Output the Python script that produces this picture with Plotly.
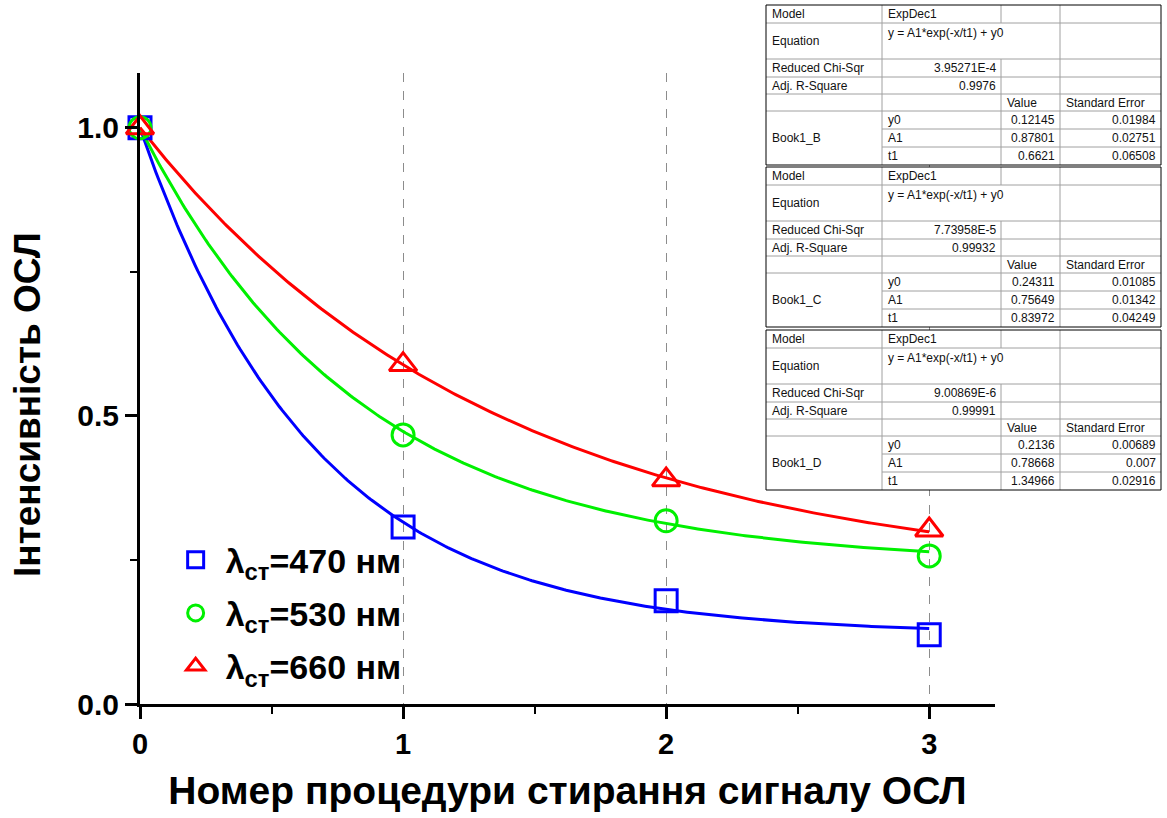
import numpy as np
import plotly.graph_objects as go

# ---- measured OSL intensity after each erase procedure ----
steps = [0, 1, 2, 3]
series_names = ["λ<sub>ст</sub>=470 нм", "λ<sub>ст</sub>=530 нм", "λ<sub>ст</sub>=660 нм"]
osl_470 = [1.0, 0.307, 0.179, 0.120]
osl_530 = [1.0, 0.467, 0.318, 0.257]
osl_660 = [1.0, 0.589, 0.389, 0.302]

# ---- ExpDec1 fit results: y = A1*exp(-x/t1) + y0 ----
fit_books = ["Book1_B", "Book1_C", "Book1_D"]
fit_chi2 = ["3.95271E-4", "7.73958E-5", "9.00869E-6"]
fit_adj_r2 = ["0.9976", "0.99932", "0.99991"]
fit_y0 = [0.12145, 0.24311, 0.2136]
fit_A1 = [0.87801, 0.75649, 0.78668]
fit_t1 = [0.6621, 0.83972, 1.34966]
fit_y0_err = [0.01984, 0.01085, 0.00689]
fit_A1_err = [0.02751, 0.01342, 0.007]
fit_t1_err = [0.06508, 0.04249, 0.02916]

colors = ["#0000ff", "#00f000", "#ff0000"]
symbols = ["square-open", "circle-open", "triangle-up-open"]
marker_sizes = [22, 22, 24]
series = [osl_470, osl_530, osl_660]

# figure geometry (px)
FIG_W, FIG_H = 1167, 818
M_L, M_R, M_T, M_B = 140, 172, 73, 114
PW = FIG_W - M_L - M_R
PH = FIG_H - M_T - M_B

FONT = "Liberation Sans, Arial, sans-serif"

fig = go.Figure()

# fitted curves
xf = np.linspace(0, 3, 301)
for i in range(3):
    yf = fit_A1[i] * np.exp(-xf / fit_t1[i]) + fit_y0[i]
    fig.add_trace(go.Scatter(x=xf, y=yf, mode="lines",
                             line=dict(color=colors[i], width=3),
                             showlegend=False, hoverinfo="skip"))

# measured points
for i in range(3):
    fig.add_trace(go.Scatter(x=steps, y=series[i], mode="markers", name=series_names[i],
                             legendgroup=f"g{i}",
                             marker=dict(symbol=symbols[i], size=marker_sizes[i], color=colors[i],
                                         line=dict(color=colors[i], width=3)),
                             cliponaxis=False))


def px_x(px):
    return (px - M_L) / PW


def px_y(py):
    return (FIG_H - M_B - py) / PH


# ---- fit parameter tables ----
shapes = []
annotations = []
col_x = [766, 882, 1001, 1060, 1161]
row_h = [18, 36, 18, 17, 17, 18, 18, 18]
table_tops = [5, 167, 330]
grid_c = "#a0a0a0"
txt_font = dict(family=FONT, size=12, color="#111111")


def hline(x0, x1, y, color=grid_c, w=1):
    shapes.append(dict(type="line", xref="paper", yref="paper",
                       x0=px_x(x0), x1=px_x(x1), y0=px_y(y), y1=px_y(y),
                       line=dict(color=color, width=w)))


def vline(x, y0, y1, color=grid_c, w=1):
    shapes.append(dict(type="line", xref="paper", yref="paper",
                       x0=px_x(x), x1=px_x(x), y0=px_y(y0), y1=px_y(y1),
                       line=dict(color=color, width=w)))


def text(s, x, y, anchor="left", yanchor="middle"):
    annotations.append(dict(text=s, xref="paper", yref="paper", x=px_x(x), y=px_y(y),
                            xanchor=anchor, yanchor=yanchor, showarrow=False,
                            font=txt_font))


for k, top in enumerate(table_tops):
    edges = [top]
    for h in row_h:
        edges.append(edges[-1] + h)
    bottom = edges[-1]
    # white background
    shapes.append(dict(type="rect", xref="paper", yref="paper",
                       x0=px_x(col_x[0]), x1=px_x(col_x[-1]), y0=px_y(bottom), y1=px_y(top),
                       fillcolor="white", line=dict(width=0), layer="above"))
    # inner horizontal lines
    for r in range(1, 6):
        hline(col_x[0], col_x[-1], edges[r])
    for r in (6, 7):
        hline(col_x[1], col_x[-1], edges[r])
    # inner vertical lines
    vline(col_x[1], top, bottom)
    vline(col_x[2], top, edges[1])
    vline(col_x[2], edges[2], bottom)
    vline(col_x[3], top, bottom)
    # outer frame
    shapes.append(dict(type="rect", xref="paper", yref="paper",
                       x0=px_x(col_x[0]), x1=px_x(col_x[-1]), y0=px_y(bottom), y1=px_y(top),
                       line=dict(color="#000000", width=1)))

    mid = [(edges[r] + edges[r + 1]) / 2 for r in range(len(row_h))]
    lx = [c + 4 for c in col_x[:-1]]
    rx = [c - 3 for c in col_x[1:]]
    text("Model", lx[0], mid[0])
    text("ExpDec1", lx[1], mid[0])
    text("Equation", lx[0], mid[1])
    text("y = A1*exp(-x/t1) + y0", lx[1], edges[1] + 1, yanchor="top")
    text("Reduced Chi-Sqr", lx[0], mid[2])
    text(fit_chi2[k], rx[1], mid[2], anchor="right")
    text("Adj. R-Square", lx[0], mid[3])
    text(fit_adj_r2[k], rx[1], mid[3], anchor="right")
    text("Value", lx[2], mid[4])
    text("Standard Error", lx[3], mid[4])
    text(fit_books[k], lx[0], mid[6])
    for r, (pn, v, e) in enumerate(zip(["y0", "A1", "t1"],
                                       [fit_y0[k], fit_A1[k], fit_t1[k]],
                                       [fit_y0_err[k], fit_A1_err[k], fit_t1_err[k]])):
        text(pn, lx[1], mid[5 + r])
        text(str(v), rx[2], mid[5 + r], anchor="right")
        text(str(e), rx[3], mid[5 + r], anchor="right")

# y-axis title, placed as a rotated annotation
annotations.append(dict(text="<b>Інтенсивність ОСЛ</b>", xref="paper", yref="paper",
                        x=px_x(28), y=px_y(405), xanchor="center", yanchor="middle",
                        textangle=-90, showarrow=False,
                        font=dict(family=FONT, size=37, color="#000000")))

fig.update_layout(
    width=FIG_W, height=FIG_H,
    margin=dict(l=M_L, r=M_R, t=M_T, b=M_B, autoexpand=False),
    paper_bgcolor="white", plot_bgcolor="white",
    font=dict(family=FONT, color="#000000"),
    shapes=shapes, annotations=annotations,
    showlegend=True,
    legend=dict(x=0.03, y=0.274, xanchor="left", yanchor="top",
                bgcolor="rgba(0,0,0,0)", traceorder="grouped", tracegroupgap=6,
                font=dict(family=FONT, size=34, weight="bold", color="#000000"),
                itemwidth=50),
    xaxis=dict(range=[0, 3.25], tickvals=[0, 1, 2, 3], ticktext=["0", "1", "2", "3"],
               showline=True, linecolor="#000000", linewidth=3,
               ticks="outside", ticklen=12, tickwidth=3, tickcolor="#000000",
               minor=dict(dtick=0.5, ticks="outside", ticklen=7, tickwidth=2,
                          tickcolor="#000000", showgrid=False),
               showgrid=True, gridcolor="#8c8c8c", griddash="dash", gridwidth=1,
               zeroline=False,
               tickfont=dict(family=FONT, size=29, weight="bold"),
               title=dict(text="<b>Номер процедури стирання сигналу ОСЛ</b>",
                          font=dict(family=FONT, size=39), standoff=18)),
    yaxis=dict(range=[0, 1.095], tickvals=[0, 0.5, 1.0], ticktext=["0.0", "0.5", "1.0"],
               showline=True, linecolor="#000000", linewidth=3,
               ticks="outside", ticklen=12, tickwidth=3, tickcolor="#000000",
               minor=dict(dtick=0.25, ticks="outside", ticklen=7, tickwidth=2,
                          tickcolor="#000000", showgrid=False),
               showgrid=False, zeroline=False,
               tickfont=dict(family=FONT, size=30, weight="bold")),
)

fig.write_html("out.html")
